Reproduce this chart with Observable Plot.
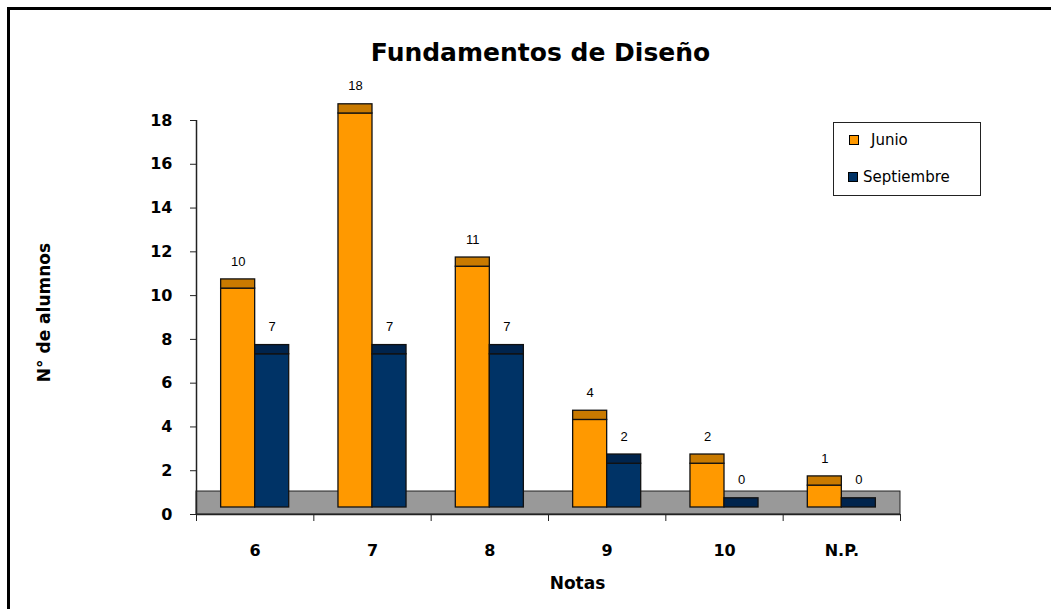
<!DOCTYPE html>
<html>
<head>
<meta charset="utf-8">
<script src="https://cdn.jsdelivr.net/npm/d3@7"></script>
<script src="https://cdn.jsdelivr.net/npm/@observablehq/plot@0.6"></script>
<style>
  html, body { margin: 0; padding: 0; background: #fff; }
  #wrap { position: relative; width: 1051px; height: 609px; overflow: hidden; }
  #border { position: absolute; left: 7px; top: 7px; width: 1100px; height: 700px;
            border-top: 3px solid #000; border-left: 3px solid #000; box-sizing: border-box; }
  #chart { position: absolute; left: 0; top: 0; }
  #legend { position: absolute; left: 833px; top: 122px; width: 148px; height: 74px;
            border: 1px solid #222; box-sizing: border-box; background: #fff;
            font-family: "DejaVu Sans", sans-serif; font-size: 15px; color: #000; }
  .item { position: absolute; display: flex; align-items: center; }
  .sw { width: 8px; height: 8px; border: 1px solid #000; display: inline-block; }
</style>
</head>
<body>
<div id="wrap">
  <div id="border"></div>
  <div id="chart"></div>
  <div id="legend"></div>
</div>
<script>
const categories = ["6", "7", "8", "9", "10", "N.P."];
const junio = [10, 18, 11, 4, 2, 1];
const septiembre = [7, 7, 7, 2, 0, 0];
const yTicks = [0, 2, 4, 6, 8, 10, 12, 14, 16, 18];
const seriesNames = ["Junio", "Septiembre"];
const title = "Fundamentos de Diseño";
const yLabel = "N° de alumnos";
const xLabel = "Notas";

const front = {Junio: "#FF9900", Septiembre: "#003366"};
const cap = {Junio: "#C97A00", Septiembre: "#00244D"};

const rows = categories.flatMap((c, i) => [
  {cat: c, i, series: "Junio", value: junio[i]},
  {cat: c, i, series: "Septiembre", value: septiembre[i]}
]);

const base = 0.32;     // 3D base lift
const depth = 0.42;    // cap (top face) thickness
const half = 0.29;     // bar width in band units
const floorTop = 1.05;
const x1 = d => d.i + 0.5 + (d.series === "Junio" ? -half : 0);
const x2 = d => d.i + 0.5 + (d.series === "Junio" ? 0 : half);

const font = "DejaVu Sans, sans-serif";

const plot = Plot.plot({
  width: 1051,
  height: 609,
  marginLeft: 196,
  marginRight: 151,
  marginTop: 120,
  marginBottom: 95,
  style: {fontFamily: font, background: "transparent", overflow: "visible"},
  x: {type: "linear", domain: [0, categories.length]},
  y: {domain: [0, 18]},
  marks: [
    Plot.rect([0], {x1: 0, x2: categories.length, y1: 0, y2: floorTop, fill: "#999999", stroke: "#222", strokeWidth: 1}),
    Plot.ruleX([0], {stroke: "#222", strokeWidth: 1.5}),
    Plot.ruleY([0], {stroke: "#222", strokeWidth: 1.5}),
    Plot.axisY({ticks: yTicks, tickSize: 6, tickPadding: 18, fontSize: 16, fontWeight: "bold", label: null, stroke: "#222"}),
    Plot.axisX({ticks: d3.range(categories.length + 1), tickSize: 7, tickFormat: () => "", label: null, stroke: "#222"}),
    Plot.axisX({ticks: categories.map((_, i) => i + 0.5), tickSize: 0, tickPadding: 30, fontSize: 16, fontWeight: "bold",
                tickFormat: v => categories[Math.floor(v)], label: null}),
    Plot.rectY(rows, {x1, x2, y1: base, y2: d => d.value + base, fill: d => front[d.series], stroke: "#111", strokeWidth: 1.3}),
    Plot.rectY(rows, {x1, x2, y1: d => d.value + base, y2: d => d.value + base + depth, fill: d => cap[d.series], stroke: "#111", strokeWidth: 1.3}),
    Plot.text(rows, {x: d => (x1(d) + x2(d)) / 2, y: d => d.value + base + depth, dy: -18, text: d => String(d.value),
                     fontSize: 13, fontFamily: "Liberation Sans, Arial, sans-serif", fill: "#000"}),
    Plot.text([title], {frameAnchor: "top", lineAnchor: "middle", dy: -68, dx: -8, fontSize: 25, fontWeight: "bold", fill: "#000"}),
    Plot.text([yLabel], {frameAnchor: "left", dx: -152, dy: -5, rotate: -90, textAnchor: "middle", fontSize: 17, fontWeight: "bold", fill: "#000"}),
    Plot.text([xLabel], {frameAnchor: "bottom", dy: 74, dx: 29, fontSize: 17, fontWeight: "bold", fill: "#000"})
  ]
});
document.getElementById("chart").appendChild(plot);

const legend = document.getElementById("legend");
seriesNames.forEach((s, k) => {
  const item = document.createElement("div");
  item.className = "item";
  item.style.left = (k === 0 ? 15 : 14) + "px";
  item.style.top = (k === 0 ? 8 : 45) + "px";
  const sw = document.createElement("span");
  sw.className = "sw";
  sw.style.background = front[s];
  const t = document.createElement("span");
  t.textContent = s;
  t.style.marginLeft = (k === 0 ? "12px" : "5px");
  item.appendChild(sw);
  item.appendChild(t);
  legend.appendChild(item);
});
</script>
</body>
</html>
